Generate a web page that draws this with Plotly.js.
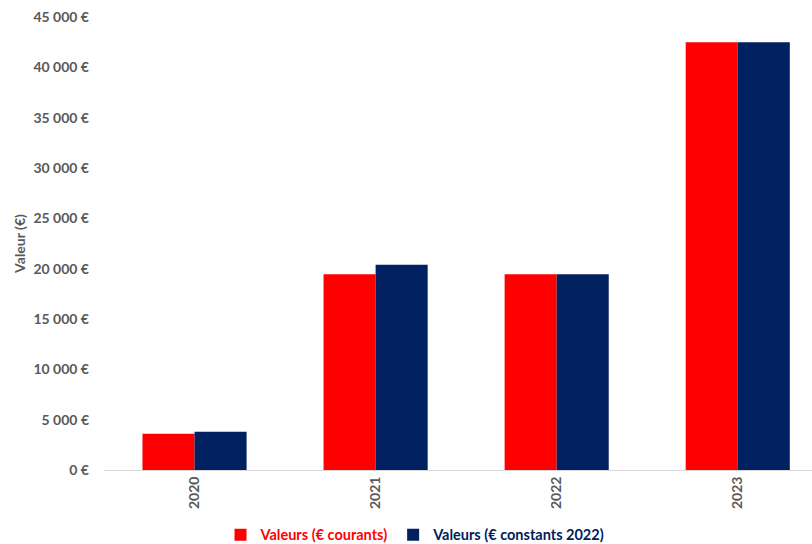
<!DOCTYPE html>
<html>
<head>
<meta charset="utf-8">
<script src="https://cdn.plot.ly/plotly-3.0.1.min.js"></script>
<style>html,body{margin:0;padding:0;background:#fff;}#chart{width:812px;height:544px;}</style>
</head>
<body>
<div id="chart"></div>
<script>
const years = ['2020', '2021', '2022', '2023'];
const courants = [3600, 19450, 19450, 42500];
const constants2022 = [3800, 20400, 19450, 42500];
const seriesNames = ['Valeurs (€ courants)', 'Valeurs (€ constants 2022)'];
const seriesColors = ['#FF0000', '#002060'];
const yTicks = [0, 5000, 10000, 15000, 20000, 25000, 30000, 35000, 40000, 45000];
const yTickText = yTicks.map(v => String(v).replace(/\B(?=(\d{3})+(?!\d))/g, ' ') + ' €');

const fontFam = 'Lato, "Open Sans", sans-serif';
const data = [courants, constants2022].map((vals, i) => ({
  type: 'bar',
  x: years,
  y: vals,
  name: '<span style="color:' + seriesColors[i] + '">' + seriesNames[i] + '</span>',
  marker: {color: seriesColors[i], line: {width: 0}},
  hoverinfo: 'skip'
}));

const layout = {
  width: 812, height: 544,
  margin: {l: 104, r: 0, t: 17, b: 74, pad: 0},
  paper_bgcolor: '#fff', plot_bgcolor: '#fff',
  barmode: 'group',
  bargap: 0.425,
  bargroupgap: 0,
  font: {family: fontFam, size: 14, color: '#595959', weight: 'bold'},
  xaxis: {
    type: 'category',
    range: [-0.5, 3.41],
    tickangle: -90,
    automargin: false,
    showgrid: false,
    showline: true, linecolor: '#D9D9D9', linewidth: 1,
    ticks: '',
    zeroline: false,
    tickfont: {family: fontFam, size: 14, color: '#595959', weight: 'bold'}
  },
  yaxis: {
    range: [0, 45000],
    tickvals: yTicks,
    ticktext: yTickText,
    automargin: false,
    showgrid: false,
    showline: false,
    zeroline: false,
    ticks: '',
    ticklabelstandoff: 14,
    tickfont: {family: fontFam, size: 14, color: '#595959', weight: 'bold'},
    title: {text: 'Valeur (€)', standoff: 4, font: {family: fontFam, size: 14, color: '#595959', weight: 'bold'}}
  },
  legend: {
    orientation: 'h',
    x: 0.44, xanchor: 'center',
    yref: 'container',
    y: 0.017, yanchor: 'middle',
    font: {family: fontFam, size: 14.5, weight: 'bold'},
    itemwidth: 30,
    traceorder: 'normal'
  },
  showlegend: true
};

Plotly.newPlot('chart', data, layout, {displayModeBar: false, staticPlot: true});
</script>
</body>
</html>
